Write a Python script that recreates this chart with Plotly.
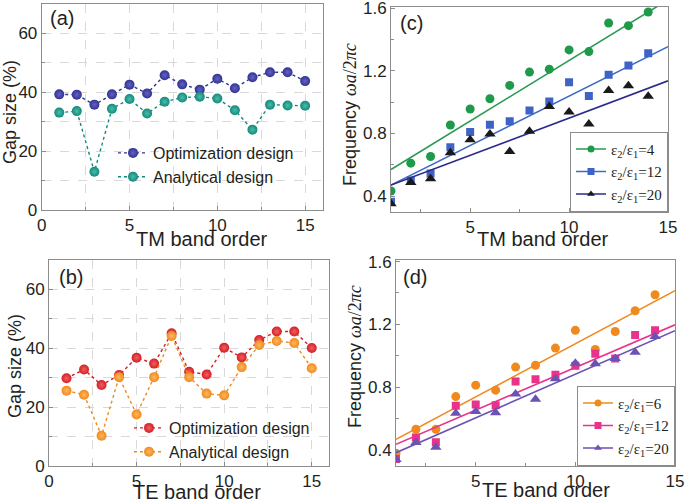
import plotly.graph_objects as go

# ── data ────────────────────────────────────────────────────
band = list(range(1, 16))

tm_opt = [39.3, 39.2, 35.8, 39.3, 42.6, 39.6, 45.8, 42.7, 40.9, 44.6, 41.4, 45.1, 46.8, 46.8, 43.8]
tm_ana = [33.1, 33.6, 13.0, 34.4, 37.7, 32.8, 36.8, 38.2, 38.5, 37.9, 33.9, 27.3, 35.8, 35.5, 35.4]

te_opt = [29.8, 32.8, 27.5, 30.9, 36.8, 34.8, 45.1, 32.0, 31.1, 40.2, 36.9, 42.8, 45.7, 45.7, 40.1]
te_ana = [25.6, 24.2, 10.3, 30.2, 17.5, 30.2, 44.2, 30.2, 24.6, 24.0, 33.6, 41.1, 42.5, 41.8, 33.2]

order = list(range(1, 15))
tm_freq_4 = [0.432, 0.610, 0.653, 0.854, 0.956, 1.022, 1.107, 1.192, 1.211, 1.334, 1.323, 1.506, 1.489, 1.576]
tm_freq_12 = [0.364, 0.500, 0.544, 0.712, 0.810, 0.856, 0.878, 0.946, 1.005, 1.128, 1.039, 1.175, 1.234, 1.313]
tm_freq_20 = [0.351, 0.487, 0.510, 0.676, 0.759, 0.797, 0.685, 0.814, 0.973, 0.937, 0.861, 1.075, 1.105, 1.037]

te_freq_6 = [0.380, 0.532, 0.532, 0.740, 0.813, 0.781, 0.928, 0.940, 1.049, 1.162, 1.040, 1.155, 1.287, 1.389]
te_freq_12 = [0.343, 0.479, 0.449, 0.681, 0.689, 0.685, 0.836, 0.851, 0.879, 0.936, 1.013, 0.983, 1.132, 1.162]
te_freq_20 = [0.340, 0.447, 0.417, 0.634, 0.645, 0.638, 0.757, 0.723, 0.853, 0.953, 0.949, 0.983, 1.023, 1.123]

# linear fits: (value at band 1, slope)
tm_fit = {"4": (0.570, 0.0774), "12": (0.470, 0.0632), "20": (0.470, 0.0476)}
te_fit = {"6": (0.468, 0.0676), "12": (0.436, 0.0544), "20": (0.383, 0.0555)}
fit_x = [1, 15]

# ── style ───────────────────────────────────────────────────
SANS = "Liberation Sans, Arial, sans-serif"
SERIF = "Liberation Serif, Times New Roman, serif"
FRAME = "#8c8c8c"
GRID = "#d9d9d9"
TXT = "#231f20"

NAVY = "#33338f"
TEAL = "#128a7a"
RED = "#d41f27"
ORANGE = "#f08a1e"
GREEN = "#1e9a4a"
BLUE = "#3f63c4"
BLACK = "#1a1a1a"
NAVYLINE = "#2b2b8c"
PINK = "#e8338a"
PURPLE = "#6b52b3"

fig = go.Figure()


def ball(color, light):
    return dict(size=10, color=color, gradient=dict(type="radial", color=light),
                line=dict(width=0))


def gap_traces(xa, ya, leg, opt, ana, c1, l1, c2, l2):
    fig.add_trace(go.Scatter(x=band, y=opt, mode="lines+markers", name="Optimization design",
                             line=dict(color=c1, dash="dot", width=1.4), marker=ball(c1, l1),
                             xaxis=xa, yaxis=ya, legend=leg))
    fig.add_trace(go.Scatter(x=band, y=ana, mode="lines+markers", name="Analytical design",
                             line=dict(color=c2, dash="dot", width=1.4), marker=ball(c2, l2),
                             xaxis=xa, yaxis=ya, legend=leg))


def freq_traces(xa, ya, leg, series, fits):
    for label, ys, color, lcolor, symbol, size in series:
        b0, k = fits[label]
        fig.add_trace(go.Scatter(x=fit_x, y=[b0 + k * (x - 1) for x in fit_x], mode="lines",
                                 line=dict(color=lcolor, width=1.6), showlegend=False,
                                 xaxis=xa, yaxis=ya, hoverinfo="skip"))
        fig.add_trace(go.Scatter(x=order, y=ys, mode="markers", showlegend=False,
                                 marker=dict(symbol=symbol, size=size, color=color),
                                 xaxis=xa, yaxis=ya, cliponaxis=True))
        fig.add_trace(go.Scatter(x=[None], y=[None], mode="lines+markers",
                                 name=f"ε<sub>2</sub>/ε<sub>1</sub>={label}",
                                 line=dict(color=lcolor, width=1.6),
                                 marker=dict(symbol=symbol, size=7, color=color),
                                 xaxis=xa, yaxis=ya, legend=leg))


gap_traces("x", "y", "legend", tm_opt, tm_ana, NAVY, "#6262c8", TEAL, "#4cbcac")
freq_traces("x2", "y2", "legend2",
            [("4", tm_freq_4, GREEN, "#2a9a52", "circle", 9),
             ("12", tm_freq_12, BLUE, "#3f6bc8", "square", 8),
             ("20", tm_freq_20, BLACK, NAVYLINE, "triangle-up", 10)], tm_fit)
gap_traces("x3", "y3", "legend3", te_opt, te_ana, RED, "#f06060", ORANGE, "#fbb860")
freq_traces("x4", "y4", "legend4",
            [("6", te_freq_6, ORANGE, ORANGE, "circle", 9),
             ("12", te_freq_12, PINK, PINK, "square", 8),
             ("20", te_freq_20, PURPLE, PURPLE, "triangle-up", 10)], te_fit)

W, H = 685, 502


def px_x(a, b):
    return [a / W, b / W]


def px_y(top, bottom):
    return [1 - bottom / H, 1 - top / H]


def axis(domain, anchor, rng, dtick, minor, grid):
    return dict(domain=domain, anchor=anchor, range=rng, dtick=dtick, automargin=False,
                ticklabeloverflow="allow",
                showline=True, mirror=True, linecolor=FRAME, linewidth=1,
                ticks="inside", ticklen=4, tickcolor=FRAME,
                showgrid=grid, gridcolor=GRID, griddash="dash", zeroline=False,
                minor=dict(dtick=minor, ticks="inside", ticklen=3, tickcolor=FRAME,
                           showgrid=grid, gridcolor=GRID, griddash="dash"),
                tickfont=dict(family=SANS, size=17, color=TXT))


legend_gap = dict(bgcolor="rgba(0,0,0,0)", borderwidth=0, xanchor="left", yanchor="top",
                  font=dict(family=SANS, size=16, color=TXT), tracegroupgap=0,
                  itemwidth=30)
legend_freq = dict(bgcolor="white", bordercolor=FRAME, borderwidth=1,
                   xanchor="right", yanchor="bottom",
                   font=dict(family=SERIF, size=15, color=TXT), itemwidth=30)

fig.update_layout(
    width=W, height=H, margin=dict(l=0, r=0, t=0, b=0),
    paper_bgcolor="white", plot_bgcolor="white",
    xaxis=axis(px_x(41.7, 322.7), "y", [0, 16], 5, 2.5, True),
    yaxis=axis(px_y(4, 210), "x", [0, 70], 20, 10, True),
    xaxis2=axis(px_x(391, 668), "y2", [1, 15], 5, 2.5, False),
    yaxis2=axis(px_y(6.7, 211.7), "x2", [0.3, 1.61], 0.4, 0.2, False),
    xaxis3=axis(px_x(49, 329.3), "y3", [0, 16], 5, 2.5, True),
    yaxis3=axis(px_y(260, 466), "x3", [0, 70], 20, 10, True),
    xaxis4=axis(px_x(396, 675), "y4", [1, 15], 5, 2.5, False),
    yaxis4=axis(px_y(260, 465.7), "x4", [0.3, 1.61], 0.4, 0.2, False),
    legend=dict(legend_gap, x=113 / W, y=1 - 136 / H),
    legend3=dict(legend_gap, x=129 / W, y=1 - 411 / H),
    legend2=dict(legend_freq, x=668 / W, y=1 - 211.7 / H),
    legend4=dict(legend_freq, x=675 / W, y=1 - 465.7 / H),
    showlegend=True,
)
fig.update_yaxes(tickformat=".1f", selector=dict(anchor="x2"))
fig.update_yaxes(tickformat=".1f", selector=dict(anchor="x4"))

freq_title = ("Frequency <span style='font-family:Liberation Serif;font-style:italic'>"
              "ωa</span><span style='font-family:Liberation Serif'>/2</span>"
              "<span style='font-family:Liberation Serif;font-style:italic'>πc</span>")

notes = [
    ("(a)", 62, 18, 0, 20),
    ("(c)", 411, 23, 0, 20),
    ("(b)", 71, 277, 0, 20),
    ("(d)", 415, 277, 0, 20),
    ("TM band order", 202, 239, 0, 20),
    ("TM band order", 543, 239, 0, 20),
    ("TE band order", 197, 492, 0, 20),
    ("TE band order", 546, 490, 0, 20),
    ("Gap size (%)", 10, 112, -90, 18),
    ("Gap size (%)", 15, 366, -90, 18),
    (freq_title, 350, 115, -90, 18),
    (freq_title, 355, 357, -90, 18),
]
for text, x, y, ang, size in notes:
    fig.add_annotation(text=text, x=x / W, y=1 - y / H, xref="paper", yref="paper",
                       showarrow=False, textangle=ang, xanchor="center", yanchor="middle",
                       font=dict(family=SANS, size=size, color=TXT))

# the page body has an 8px default margin; drop it so the figure fills the window
fig.write_html("out.html", config={"displayModeBar": False},
               post_script="document.body.style.margin='0px';")
